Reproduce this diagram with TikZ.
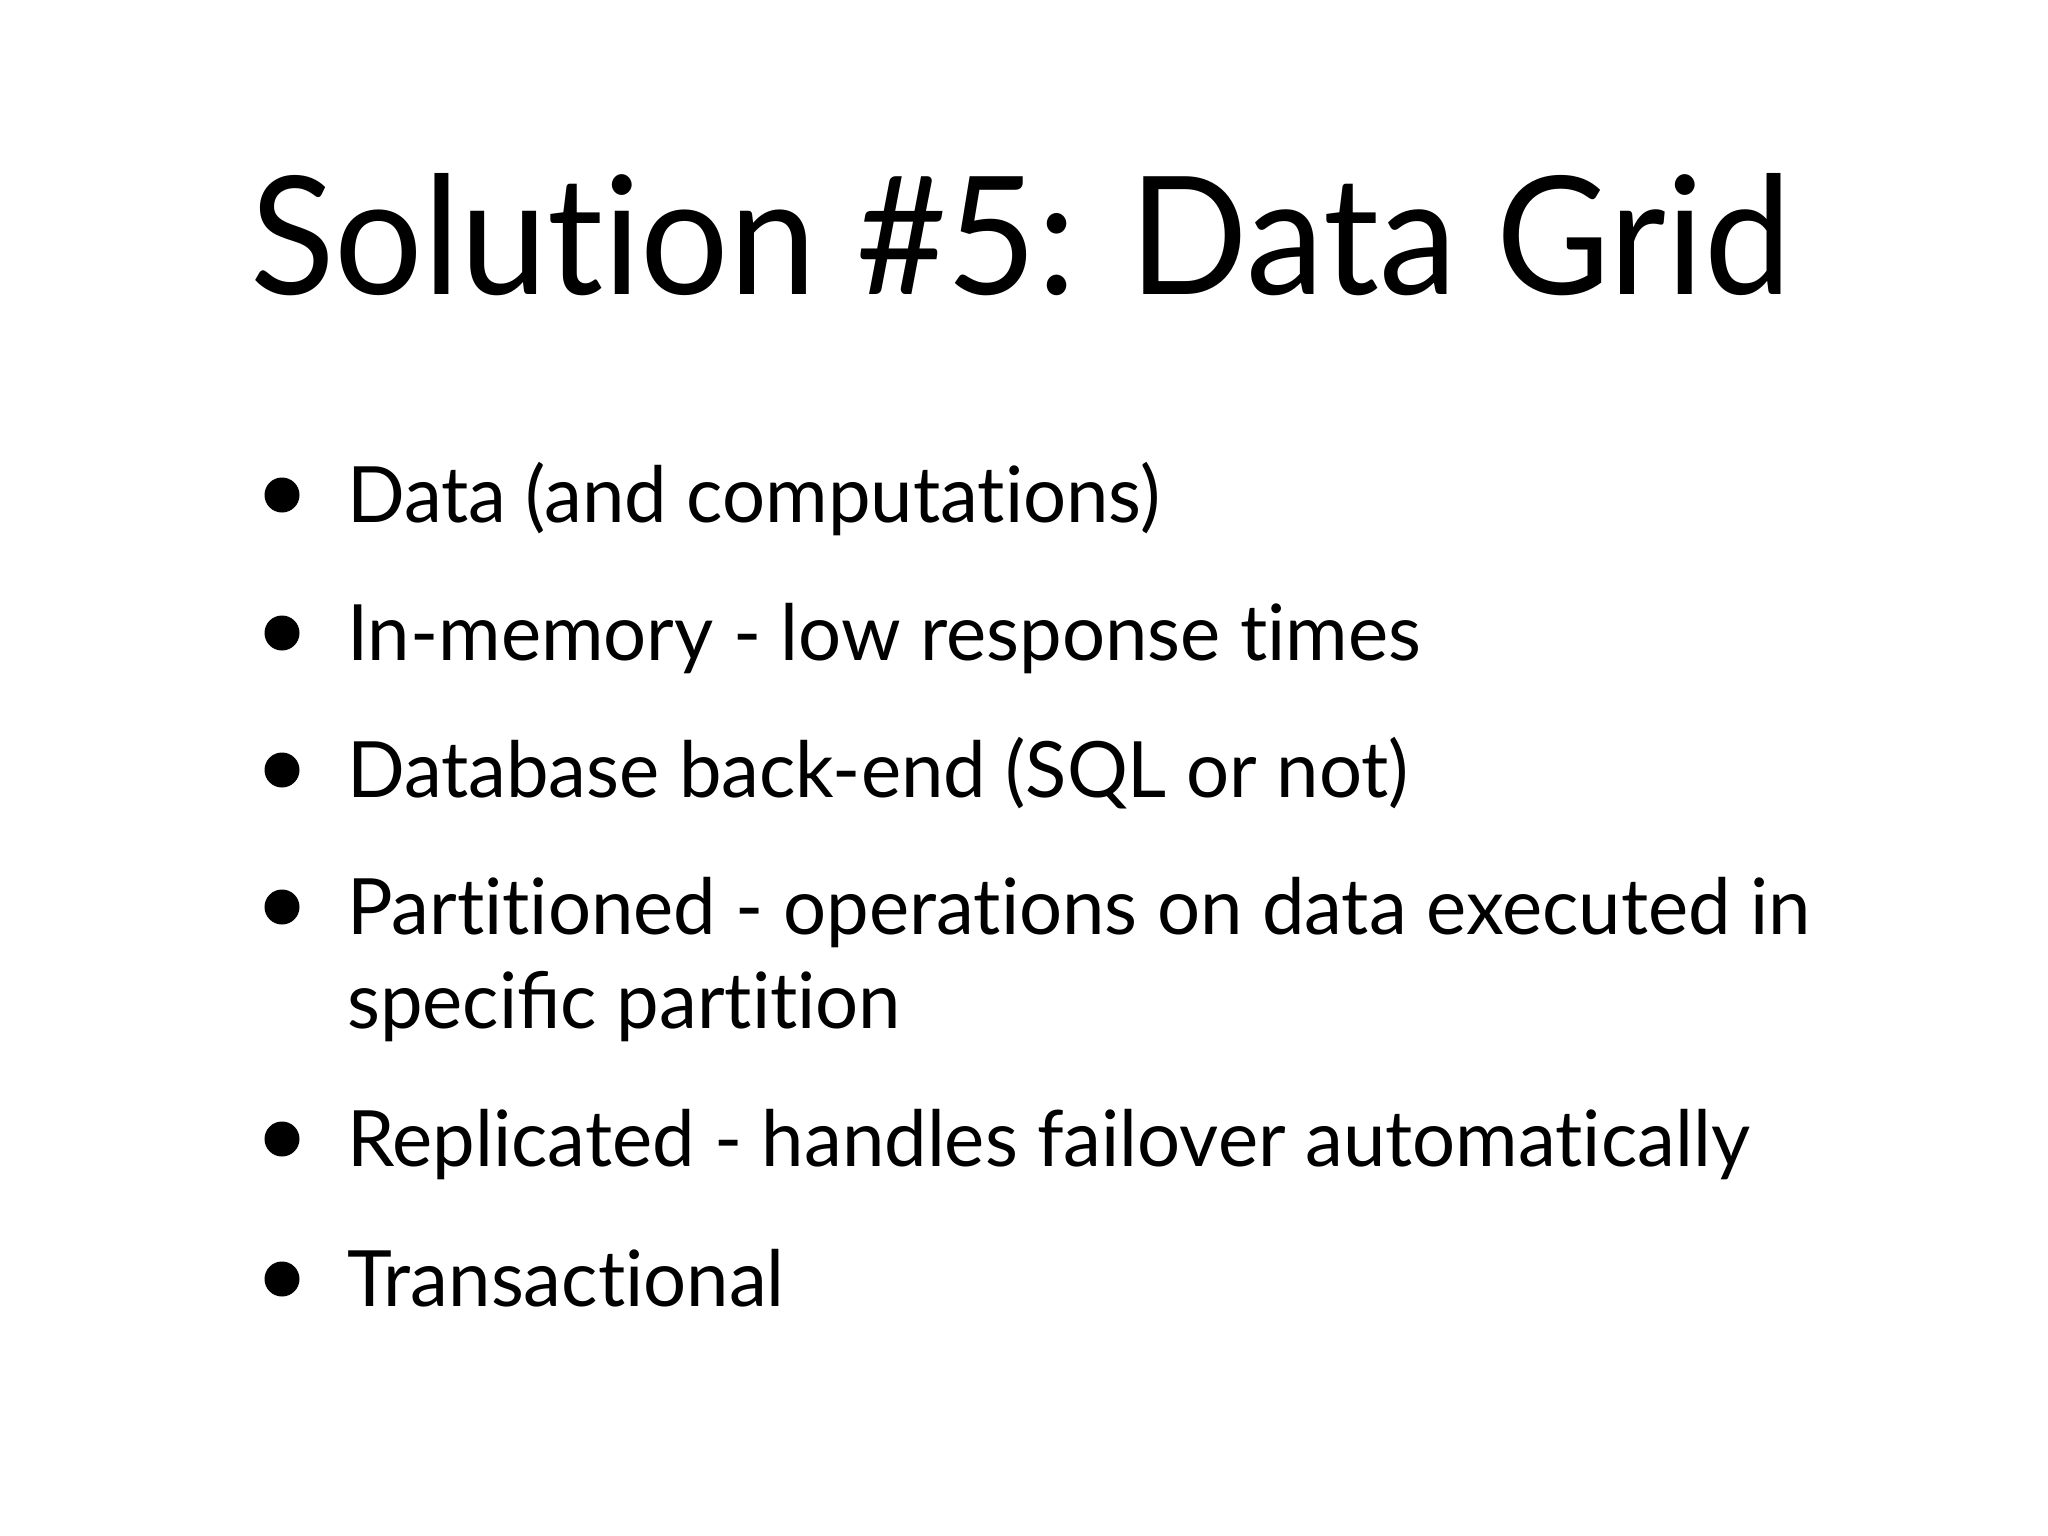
\documentclass[tikz,border=0pt]{standalone}
\usepackage{fontspec}
\setmainfont[Ligatures=NoCommon]{Lato}
\newfontfamily\titlefont[Ligatures=NoCommon,FakeStretch=0.95]{Lato}
\newfontfamily\itemfont[Ligatures=NoCommon,FakeStretch=0.978]{Lato}
\begin{document}
\begin{tikzpicture}[x=1bp,y=-1bp,
  title/.style={anchor=base west,inner sep=0pt,font=\titlefont\fontsize{165}{198}\selectfont},
  item/.style={anchor=base west,inner sep=0pt,font=\itemfont\fontsize{78}{94}\selectfont},
  dot/.style={circle,fill=black,inner sep=0pt,minimum size=35bp}]
\useasboundingbox[fill=white] (0,0) rectangle (2048,1536);
\node[title] (t) at (250,294) {Solution \#5: Data Grid};
\node[item] (l1) at (347,522) {Data (and computations)};
\node[item] (l2) at (347,660) {In-memory - low response times};
\node[item] (l3) at (347,797) {Database back-end (SQL or not)};
\node[item] (l4) at (347,934) {Partitioned - operations on data executed in};
\node[item] (l4b) at (347,1028) {speci^^^^fb01c partition};
\node[item] (l5) at (347,1166) {Replicated - handles failover automatically};
\node[item] (l6) at (347,1306) {Transactional};
\node[dot] (b1) at (282,495) {};
\node[dot] (b2) at (282,633) {};
\node[dot] (b3) at (282,770) {};
\node[dot] (b4) at (282,907) {};
\node[dot] (b5) at (282,1139) {};
\node[dot] (b6) at (282,1279) {};
\end{tikzpicture}
\end{document}
